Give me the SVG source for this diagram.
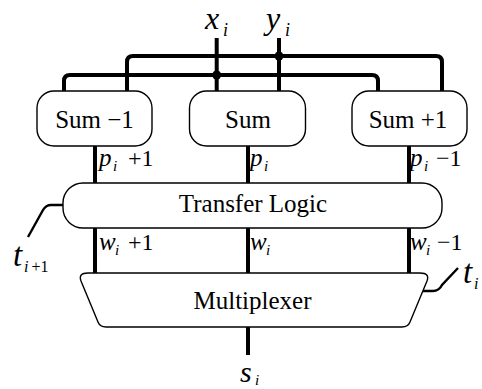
<svg xmlns="http://www.w3.org/2000/svg" width="482" height="389" viewBox="0 0 482 389">
<style>
.box{fill:#fff;stroke:#000;stroke-width:1.4}
.bus{fill:none;stroke:#000;stroke-width:4}
.thin{fill:none;stroke:#000;stroke-width:2.4}
.lbl{font-family:"Liberation Serif","Times New Roman",serif;font-size:25px;fill:#000}
.it{font-family:"Liberation Serif","Times New Roman",serif;font-style:italic;fill:#000}
.rm{font-family:"Liberation Serif","Times New Roman",serif;fill:#000}
</style>
<rect width="482" height="389" fill="#fff"/>
<g id="connectors">
  <path class="bus" d="M64,91 V81 Q64,75 70,75 H372 Q378,75 378,81 V91"/>
  <path class="bus" d="M127,91 V62 Q127,56 133,56 H436 Q442,56 442,62 V91"/>
  <path class="bus" d="M216.7,38 V91"/>
  <path class="bus" d="M279,38 V91"/>
  <circle cx="216.7" cy="75" r="4.5" fill="#000"/>
  <circle cx="279" cy="56" r="4.5" fill="#000"/>
  <path class="bus" d="M95,146 V183 M248,146 V183 M409,146 V183"/>
  <path class="bus" d="M95,228 V273 M248,228 V273 M409,228 V273"/>
  <path class="bus" d="M248,327 V355"/>
  <path class="thin" d="M63,205 H51 Q46,205 43,210 L28,237"/>
  <path class="thin" d="M421,291 H433 Q439,291 442,285 L458,268"/>
</g>
<g id="sum_minus1">
  <rect class="box" x="37" y="91" width="115" height="55" rx="17"/>
  <text class="lbl" x="94.5" y="128" text-anchor="middle">Sum −1</text>
</g>
<g id="sum">
  <rect class="box" x="189.5" y="91" width="116" height="55" rx="17"/>
  <text class="lbl" x="248" y="128" text-anchor="middle">Sum</text>
</g>
<g id="sum_plus1">
  <rect class="box" x="352" y="91" width="115" height="55" rx="17"/>
  <text class="lbl" x="408" y="128" text-anchor="middle">Sum +1</text>
</g>
<g id="transfer_logic">
  <rect class="box" x="63" y="183" width="379" height="45" rx="20"/>
  <text class="lbl" x="253" y="212" text-anchor="middle">Transfer Logic</text>
</g>
<g id="multiplexer">
  <path class="box" d="M88,273 H420 Q430,273 427,281 L410,322 Q408,327 402,327 H106 Q100,327 98,322 L81,281 Q78,273 88,273 Z"/>
  <text class="lbl" x="252.5" y="309" text-anchor="middle">Multiplexer</text>
</g>
<g id="labels">
  <text class="it" x="205" y="29" font-size="32">x</text>
  <text class="it" x="223" y="36" font-size="18">i</text>
  <text class="it" x="266" y="29" font-size="32">y</text>
  <text class="it" x="285" y="36" font-size="18">i</text>

  <text class="it" x="99" y="166" font-size="25">p</text>
  <text class="it" x="113" y="171" font-size="15">i</text>
  <text class="rm" x="128" y="166" font-size="24">+1</text>
  <text class="it" x="250" y="166" font-size="25">p</text>
  <text class="it" x="264" y="171" font-size="15">i</text>
  <text class="it" x="410" y="166" font-size="25">p</text>
  <text class="it" x="424" y="171" font-size="15">i</text>
  <text class="rm" x="436" y="166" font-size="24">−1</text>

  <text class="it" x="99" y="250" font-size="25">w</text>
  <text class="it" x="115" y="255" font-size="15">i</text>
  <text class="rm" x="128" y="250" font-size="24">+1</text>
  <text class="it" x="250" y="250" font-size="25">w</text>
  <text class="it" x="266" y="255" font-size="15">i</text>
  <text class="it" x="410" y="250" font-size="25">w</text>
  <text class="it" x="426" y="255" font-size="15">i</text>
  <text class="rm" x="437" y="250" font-size="24">−1</text>

  <text class="it" x="13" y="266" font-size="33">t</text>
  <text class="it" x="24" y="272" font-size="16">i<tspan class="rm" font-style="normal" dx="3">+1</tspan></text>
  <text class="it" x="463" y="283" font-size="33">t</text>
  <text class="it" x="474" y="289" font-size="16">i</text>

  <text class="it" x="240" y="382" font-size="30">s</text>
  <text class="it" x="255" y="385" font-size="15">i</text>
</g>
</svg>
